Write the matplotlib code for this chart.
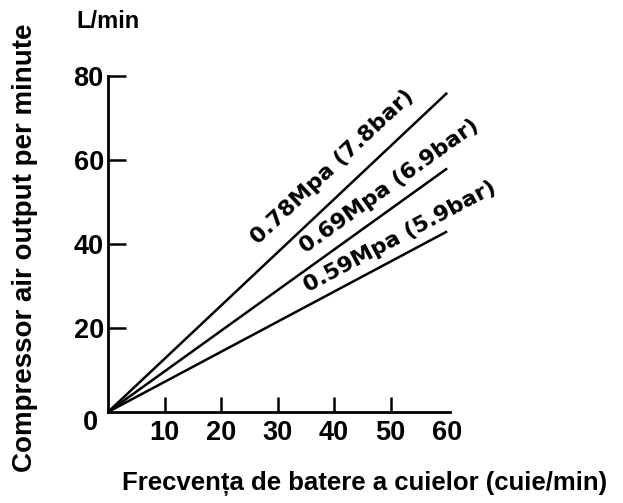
import matplotlib.pyplot as plt
import matplotlib.transforms as mtransforms
import numpy as np

plt.rcParams['font.family'] = ['Liberation Sans', 'DejaVu Sans']

# nailing frequency (cuie/min) at the end of each line, and air output (L/min)
x_end = [0, 60]
pressure_labels = ['0.78Mpa (7.8bar)', '0.69Mpa (6.9bar)', '0.59Mpa (5.9bar)']
output_at_60 = [76, 58, 43]
label_x = [26.6, 35.0, 35.4]     # where each label starts along the x axis
label_lift = [6.1, 3.9, 3.1]     # how far above its line (L/min)

x_ticks = [10, 20, 30, 40, 50, 60]
y_ticks = [0, 20, 40, 60, 80]

fig = plt.figure(figsize=(6.23, 5.03), dpi=100)
ax = fig.add_axes([108 / 623, 91 / 503, 342 / 623, 336 / 503])

for out in output_at_60:
    ax.plot(x_end, [0, out], color='black', lw=1.8, solid_capstyle='butt')

ax.set_xlim(0, 60.5)
ax.set_ylim(0, 80)
ax.spines['top'].set_visible(False)
ax.spines['right'].set_visible(False)
for s in ('left', 'bottom'):
    ax.spines[s].set_linewidth(2)

ax.set_xticks(x_ticks)
ax.set_yticks(y_ticks)
ax.tick_params(axis='x', direction='in', length=11, width=1.8, pad=6, labelsize=19.5)
ax.tick_params(axis='y', direction='in', length=13, width=1.8, pad=3, labelsize=19.5)
for lbl in ax.get_xticklabels() + ax.get_yticklabels():
    lbl.set_fontweight('bold')
ax.xaxis.get_major_ticks()[-1].tick1line.set_visible(False)
ax.yaxis.get_major_ticks()[0].tick1line.set_visible(False)

# the "0" sits a little lower and further left
zero = ax.yaxis.get_major_ticks()[0].label1
zero.set_transform(zero.get_transform() +
                   mtransforms.ScaledTranslation(-4 / 72, -6 / 72, fig.dpi_scale_trans))

fig.canvas.draw()
for name, out, lx, lift in zip(pressure_labels, output_at_60, label_x, label_lift):
    p0 = ax.transData.transform((0, 0))
    p1 = ax.transData.transform((60, out))
    angle = np.degrees(np.arctan2(p1[1] - p0[1], p1[0] - p0[0]))
    ax.text(lx, lx * out / 60 + lift, name, rotation=angle, rotation_mode='anchor',
            ha='left', va='baseline', fontsize=15.8, fontweight='bold',
            family='DejaVu Sans')

fig.text(108 / 623, 1 - 22 / 503, 'L/min', ha='center', va='center',
         fontsize=17, fontweight='bold')

ax.set_ylabel('Compressor air output per minute', fontsize=20, fontweight='bold')
ax.yaxis.set_label_coords(-0.205, 0.49)
ax.set_xlabel('Frecvența de batere a cuielor (cuie/min)', fontsize=18.5, fontweight='bold')
ax.xaxis.set_label_coords(0.75, -0.175)

fig.savefig('out.png', dpi=100)
